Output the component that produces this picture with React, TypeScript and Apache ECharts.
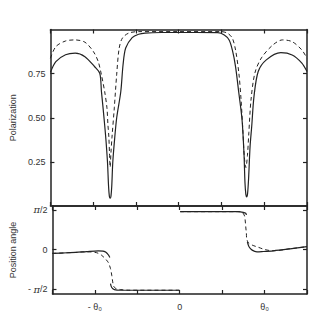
import React, { useEffect, useRef } from "react";
import * as echarts from "echarts";

// Polarization (top panel), x in units where theta0 = 2
const polSolid: [number, number][] = [
  [-3, 0.757], [-2.873, 0.818], [-2.646, 0.857], [-2.42, 0.866], [-2.193, 0.846],
  [-1.966, 0.789], [-1.846, 0.752], [-1.807, 0.649], [-1.769, 0.556], [-1.732, 0.46],
  [-1.7, 0.37], [-1.665, 0.246], [-1.64, 0.11], [-1.622, 0.056], [-1.603, 0.044],
  [-1.584, 0.056], [-1.566, 0.11], [-1.542, 0.246], [-1.5, 0.376], [-1.45, 0.5],
  [-1.354, 0.649], [-1.302, 0.799], [-1.24, 0.895], [-1.088, 0.954], [-0.939, 0.973],
  [-0.787, 0.98], [-0.4, 0.983], [0, 0.983], [0.4, 0.983], [0.914, 0.982],
  [1.066, 0.969], [1.179, 0.941], [1.254, 0.884], [1.329, 0.79], [1.406, 0.64],
  [1.481, 0.489], [1.526, 0.3], [1.55, 0.13], [1.57, 0.066], [1.59, 0.052],
  [1.61, 0.07], [1.633, 0.15], [1.669, 0.338], [1.707, 0.45], [1.76, 0.62],
  [1.859, 0.762], [2.048, 0.828], [2.388, 0.869], [2.653, 0.856], [2.88, 0.81],
  [3, 0.762],
];

const polDashed: [number, number][] = [
  [-3, 0.837], [-2.873, 0.903], [-2.646, 0.935], [-2.42, 0.941], [-2.193, 0.928],
  [-1.995, 0.875], [-1.882, 0.818], [-1.807, 0.743], [-1.732, 0.649], [-1.678, 0.556],
  [-1.655, 0.46], [-1.633, 0.39], [-1.619, 0.3], [-1.603, 0.22], [-1.585, 0.3],
  [-1.56, 0.39], [-1.506, 0.556], [-1.451, 0.743], [-1.392, 0.895], [-1.315, 0.952],
  [-1.166, 0.98], [-0.939, 0.988], [0, 0.988], [0.989, 0.988], [1.141, 0.979],
  [1.254, 0.951], [1.329, 0.884], [1.406, 0.754], [1.458, 0.602], [1.503, 0.415],
  [1.533, 0.281], [1.571, 0.218], [1.607, 0.285], [1.64, 0.415], [1.69, 0.6],
  [1.782, 0.754], [1.934, 0.839], [2.2, 0.912], [2.426, 0.941], [2.653, 0.931],
  [2.88, 0.884], [3, 0.837],
];

// Position angle (bottom panel), y in units of pi/2; "-" breaks the line
const angSolid: [number, number | string][] = [
  [-3, -0.096], [-2.65, -0.08], [-2.449, -0.071], [-2.2, -0.05], [-1.921, -0.03],
  [-1.807, -0.038], [-1.732, -0.071], [-1.678, -0.139], [-1.648, -0.198], [-1.64, "-"],
  [-1.633, -0.856], [-1.603, -0.957], [-1.542, -1.008], [-1.392, -1.025], [-0.8, -1.025],
  [-0.01, -1.025], [0, "-"], [0.01, 0.957], [0.8, 0.957], [1.367, 0.957],
  [1.497, 0.941], [1.556, 0.916], [1.571, 0.873], [1.582, "-"], [1.594, 0.198],
  [1.633, 0.071], [1.707, -0.013], [1.821, -0.055], [1.934, -0.05], [2.2, -0.03],
  [2.6, 0.02], [3, 0.076],
];

const angDashed: [number, number | string][] = [
  [-3, -0.096], [-2.449, -0.071], [-2.2, -0.055], [-1.966, -0.076], [-1.846, -0.139],
  [-1.694, -0.308], [-1.633, -0.476], [-1.603, -0.646], [-1.58, -0.815], [-1.558, -0.924],
  [-1.506, -0.982], [-1.392, -1.008], [-1.2, -1.025], [-0.01, -1.025], [0, "-"],
  [0.01, 0.957], [1.367, 0.957], [1.443, 0.957], [1.519, 0.873], [1.542, 0.747],
  [1.556, 0.577], [1.571, 0.41], [1.578, 0.284], [1.617, 0.172], [1.707, 0.114],
  [1.859, 0.056], [2.009, 0.0], [2.2, -0.03], [2.6, 0.02], [3, 0.076],
];

const polTicks = [0.25, 0.5, 0.75];
const angTicks = [-1, 0, 1];
const xTickLabels: Record<string, string> = { "-2": "- θ₀", "0": "0", "2": "θ₀" };

const INK = "#222";
const FONT = "Liberation Sans, Arial, sans-serif";

export default function App() {
  const ref = useRef<HTMLDivElement>(null);
  useEffect(() => {
    if (!ref.current) return;
    const chart = echarts.init(ref.current, undefined, { renderer: "svg" });
    const lineStyle = { color: INK, width: 1.5 };
    const xBase = (gridIndex: number, position: "top" | "bottom", labels: boolean) => ({
      type: "value" as const,
      gridIndex,
      position,
      min: -3,
      max: 3,
      interval: 1,
      axisLine: { show: true, onZero: false, lineStyle },
      axisTick: { show: true, inside: true, length: 4, lineStyle: { color: INK, width: 1.2 } },
      splitLine: { show: false },
      axisLabel: labels
        ? {
            show: true,
            interval: 0,
            margin: 8,
            fontSize: 9,
            fontFamily: FONT,
            color: "#333",
            formatter: (v: number) => xTickLabels[String(v)] ?? "",
          }
        : { show: false },
    });
    const yBase = (
      gridIndex: number,
      position: "left" | "right",
      min: number,
      max: number,
      ticks: number[],
      label: any,
      name?: string
    ) => ({
      type: "value" as const,
      gridIndex,
      position,
      min,
      max,
      name: name ?? "",
      nameLocation: "middle" as const,
      nameGap: 28,
      nameTextStyle: { fontSize: 9, fontFamily: FONT, color: "#333" },
      axisLine: { show: true, onZero: false, lineStyle },
      axisTick: { show: true, inside: true, length: 4, customValues: ticks, lineStyle: { color: INK, width: 1.2 } },
      splitLine: { show: false },
      axisLabel: label ? { ...label, customValues: ticks } : { show: false },
    });
    chart.setOption({
      animation: false,
      backgroundColor: "#fff",
      grid: [
        { left: 42, top: 29.5, width: 265, height: 176.5 },
        { left: 42, top: 206, width: 265, height: 88 },
      ],
      xAxis: [
        xBase(0, "bottom", false),
        xBase(0, "top", false),
        xBase(1, "top", false),
        xBase(1, "bottom", true),
      ],
      yAxis: [
        yBase(
          0,
          "left",
          0,
          1,
          polTicks,
          { show: true, margin: 5, fontSize: 9, fontFamily: FONT, color: "#333", formatter: (v: number) => v.toFixed(2) },
          "Polarization"
        ),
        yBase(0, "right", 0, 1, polTicks, null),
        yBase(
          1,
          "left",
          -1.12,
          1.1,
          angTicks,
          {
            show: true,
            margin: 5,
            fontSize: 9,
            fontFamily: FONT,
            color: "#333",
            formatter: (v: number) => (v === 1 ? "{i|π}/2" : v === -1 ? "- {i|π}/2" : "0"),
            rich: { i: { fontStyle: "italic", fontSize: 10, fontFamily: "DejaVu Serif, serif", color: "#333" } },
          },
          "Position angle"
        ),
        yBase(1, "right", -1.12, 1.1, angTicks, null),
      ],
      series: [
        {
          type: "line", xAxisIndex: 0, yAxisIndex: 0, data: polSolid, symbol: "none", smooth: 0.3,
          lineStyle: { color: INK, width: 1.2 }, z: 3,
        },
        {
          type: "line", xAxisIndex: 0, yAxisIndex: 0, data: polDashed, symbol: "none", smooth: 0.3,
          lineStyle: { color: INK, width: 1, type: [4, 3] }, z: 2,
        },
        {
          type: "line", xAxisIndex: 3, yAxisIndex: 2, data: angSolid, symbol: "none", smooth: 0.3,
          connectNulls: false, lineStyle: { color: INK, width: 1.2 }, z: 3,
        },
        {
          type: "line", xAxisIndex: 3, yAxisIndex: 2, data: angDashed, symbol: "none", smooth: 0.3,
          connectNulls: false, lineStyle: { color: INK, width: 1, type: [4, 3] }, z: 2,
        },
      ],
    });
    return () => chart.dispose();
  }, []);
  return (
    <div
      ref={ref}
      style={{ position: "absolute", left: 0, top: 0, width: 330, height: 333, background: "#fff" }}
    />
  );
}
